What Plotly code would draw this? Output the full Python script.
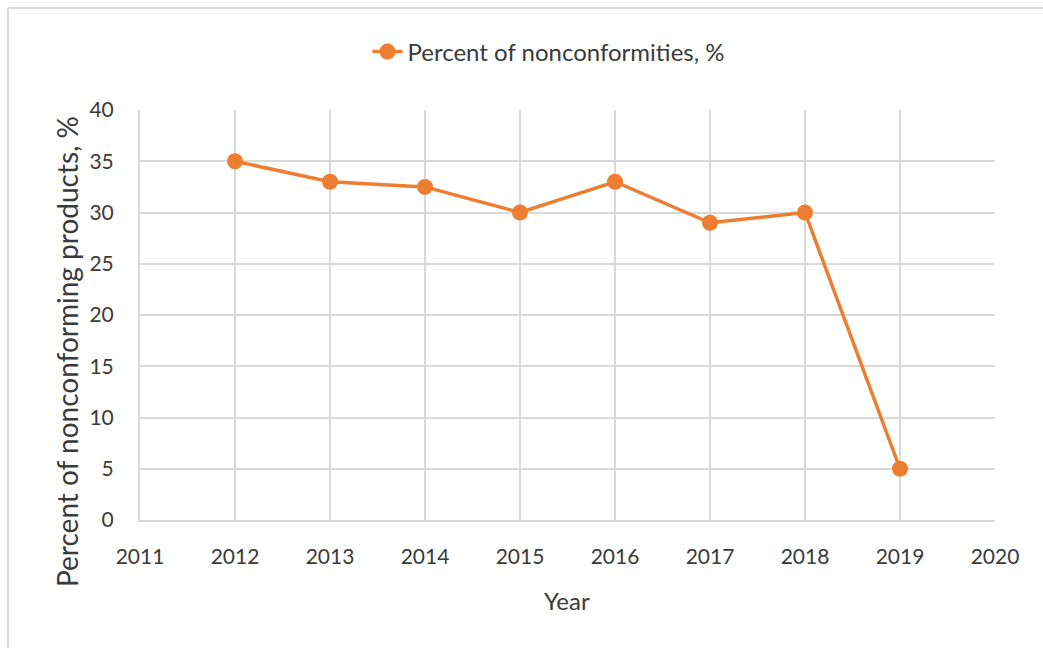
import plotly.graph_objects as go

years = [2012, 2013, 2014, 2015, 2016, 2017, 2018, 2019]
percent = [35, 33, 32.5, 30, 33, 29, 30, 5]
series_name = "Percent of nonconformities, %"
x_ticks = [2011, 2012, 2013, 2014, 2015, 2016, 2017, 2018, 2019, 2020]
y_ticks = [0, 5, 10, 15, 20, 25, 30, 35, 40]

W, H = 1043, 648
L, R, T, B = 140, 48, 110, 128
pw, ph = W - L - R, H - T - B

def px(x):
    return (x - L) / pw

def py(y):
    return (H - B - y) / ph

orange = "#ED7D31"
grid = "#D9D9D9"
txt = "#3A3A3A"
font = "Lato, Open Sans, sans-serif"

fig = go.Figure()
fig.add_trace(go.Scatter(
    x=years, y=percent, mode="lines+markers", name=series_name,
    line=dict(color=orange, width=3.5),
    marker=dict(color=orange, size=16),
    showlegend=True,
))

fig.update_layout(
    width=W, height=H,
    margin=dict(l=L, r=R, t=T, b=B, pad=0),
    paper_bgcolor="white", plot_bgcolor="white",
    font=dict(family=font, color=txt, size=21),
    showlegend=True,
    legend=dict(orientation="h", x=px(549), xanchor="center", y=py(52), yanchor="middle",
                font=dict(size=24, color=txt), bgcolor="rgba(0,0,0,0)"),
    xaxis=dict(range=[2011, 2020], tickmode="array", tickvals=x_ticks,
               showgrid=True, gridcolor=grid, gridwidth=1.5,
               showline=True, linecolor=grid, linewidth=2,
               ticks="outside", ticklen=17, tickcolor="rgba(0,0,0,0)",
               tickfont=dict(size=21, color=txt), zeroline=False),
    yaxis=dict(range=[0, 40], tickmode="array", tickvals=y_ticks,
               showgrid=True, gridcolor=grid, gridwidth=1.5,
               showline=True, linecolor=grid, linewidth=2,
               ticks="outside", ticklen=20, tickcolor="rgba(0,0,0,0)",
               tickfont=dict(size=21, color=txt), zeroline=False),
    annotations=[
        dict(text="Year", xref="paper", yref="paper", x=px(567), y=py(600),
             xanchor="center", yanchor="middle", showarrow=False,
             font=dict(size=24, color=txt)),
        dict(text="Percent of nonconforming products, %", xref="paper", yref="paper",
             x=px(67), y=py(352), xanchor="center", yanchor="middle", showarrow=False,
             textangle=-90, font=dict(size=28, color=txt)),
    ],
)

fig.add_shape(type="line", xref="paper", yref="paper",
              x0=px(8), x1=px(W + 5), y0=py(8), y1=py(8),
              line=dict(color=grid, width=2))
fig.add_shape(type="line", xref="paper", yref="paper",
              x0=px(8), x1=px(8), y0=py(8), y1=py(H + 5),
              line=dict(color=grid, width=2))

fig.write_html("out.html")
